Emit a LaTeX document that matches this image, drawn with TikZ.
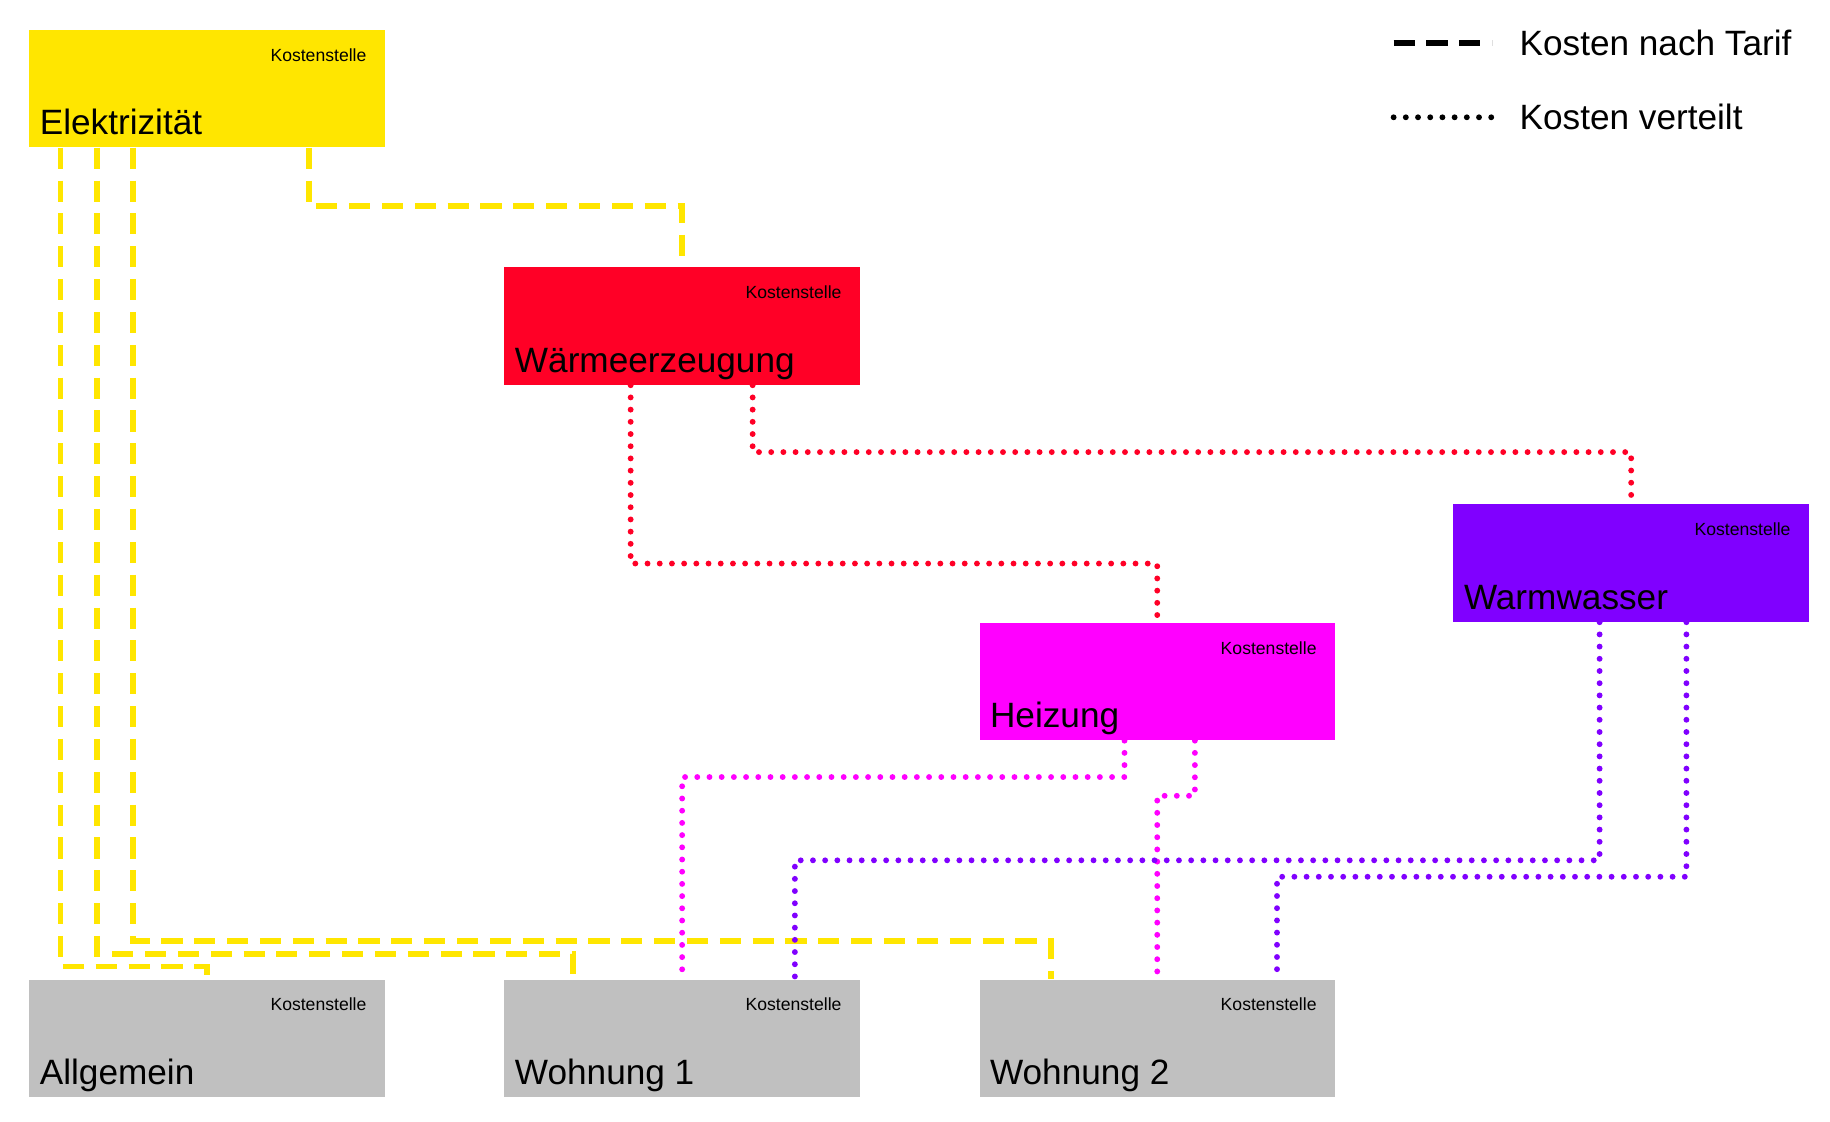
\documentclass[tikz,border=0pt]{standalone}
\usepackage{fontspec}
\setmainfont{Liberation Sans}
\usetikzlibrary{calc}
\definecolor{kyel}{HTML}{FFE600}
\definecolor{kred}{HTML}{FF0026}
\definecolor{kpur}{HTML}{8000FF}
\definecolor{kmag}{HTML}{FF00FF}
\definecolor{kgry}{HTML}{C0C0C0}
\begin{document}
\begin{tikzpicture}[x=0.5pt,y=-0.5pt,
 box/.style={draw=none,fill=#1,minimum width=151.5pt,minimum height=50pt,inner sep=0pt,
   label={[anchor=north east,font=\fontsize{7.5}{8}\selectfont,xshift=-4.5pt,yshift=-4.5pt]north east:Kostenstelle}},
 bigtxt/.style={anchor=base west,font=\fontsize{15}{16}\selectfont,inner sep=0pt},
 tarif/.style={line width=2.5pt,dash pattern=on 9pt off 5pt},
 vert/.style={line width=2.5pt,line cap=round,dash pattern=on 0pt off 5.2pt}]
\useasboundingbox (0,0) rectangle (1560,956);
\node[box=kyel] (el) at (176.5,75.5) {};
\node[box=kred] (wz) at (581.5,278) {};
\node[box=kpur] (ww) at (1390.5,480) {};
\node[box=kmag] (hz) at (986.5,581) {};
\node[box=kgry] (al) at (176.5,885) {};
\node[box=kgry] (w1) at (581.5,885) {};
\node[box=kgry] (w2) at (986.5,885) {};
\foreach \n/\t in {el/Elektrizität,wz/Wärmeerzeugung,ww/Warmwasser,hz/Heizung,al/Allgemein,w1/Wohnung 1,w2/Wohnung 2}
  \node[bigtxt] (t\n) at ($(\n.south west)+(9,-11)$) {\t};
% yellow
\draw[tarif,kyel] ($(el.south west)+(239,0)$) -- ++(0,50) -| (wz.north);
\draw[tarif,kyel] ($(el.south west)+(27,0)$) -- ++(0,698) -| (al.north);
\draw[tarif,kyel] ($(el.south west)+(58,0)$) -- ++(0,687) -| ($(w1.north west)+(59,0)$);
\draw[tarif,kyel] ($(el.south west)+(89,0)$) -- ++(0,676) -| ($(w2.north west)+(61,0)$);
% red
\draw[vert,kred] ($(wz.south west)+(108,0)$) -- ++(0,152) -| (hz.north);
\draw[vert,kred] ($(wz.south west)+(212,0)$) -- ++(0,57) -| (ww.north);
% magenta
\draw[vert,kmag] ($(hz.south west)+(124,0)$) -- ++(0,31) -| (w1.north);
\draw[vert,kmag] ($(hz.south west)+(184,0)$) -- ++(0,47) -| (w2.north);
% purple
\draw[vert,kpur] ($(ww.south west)+(125,0)$) -- ++(0,203) -| ($(w1.north west)+(248,0)$);
\draw[vert,kpur] ($(ww.south west)+(199,0)$) -- ++(0,217) -| ($(w2.north west)+(254,0)$);
% legend
\coordinate (l1a) at (1188,37); \coordinate (l1b) at (1272,37);
\coordinate (l2a) at (1188,100); \coordinate (l2b) at (1272,100);
\draw[tarif,black] (l1a) -- (l1b);
\draw[vert,black] (l2a) -- (l2b);
\node[anchor=west,font=\fontsize{15}{16}\selectfont,inner sep=0pt] (lg1) at (1295,37) {Kosten nach Tarif};
\node[anchor=west,font=\fontsize{15}{16}\selectfont,inner sep=0pt] (lg2) at (1295,100) {Kosten verteilt};
\end{tikzpicture}
\end{document}
